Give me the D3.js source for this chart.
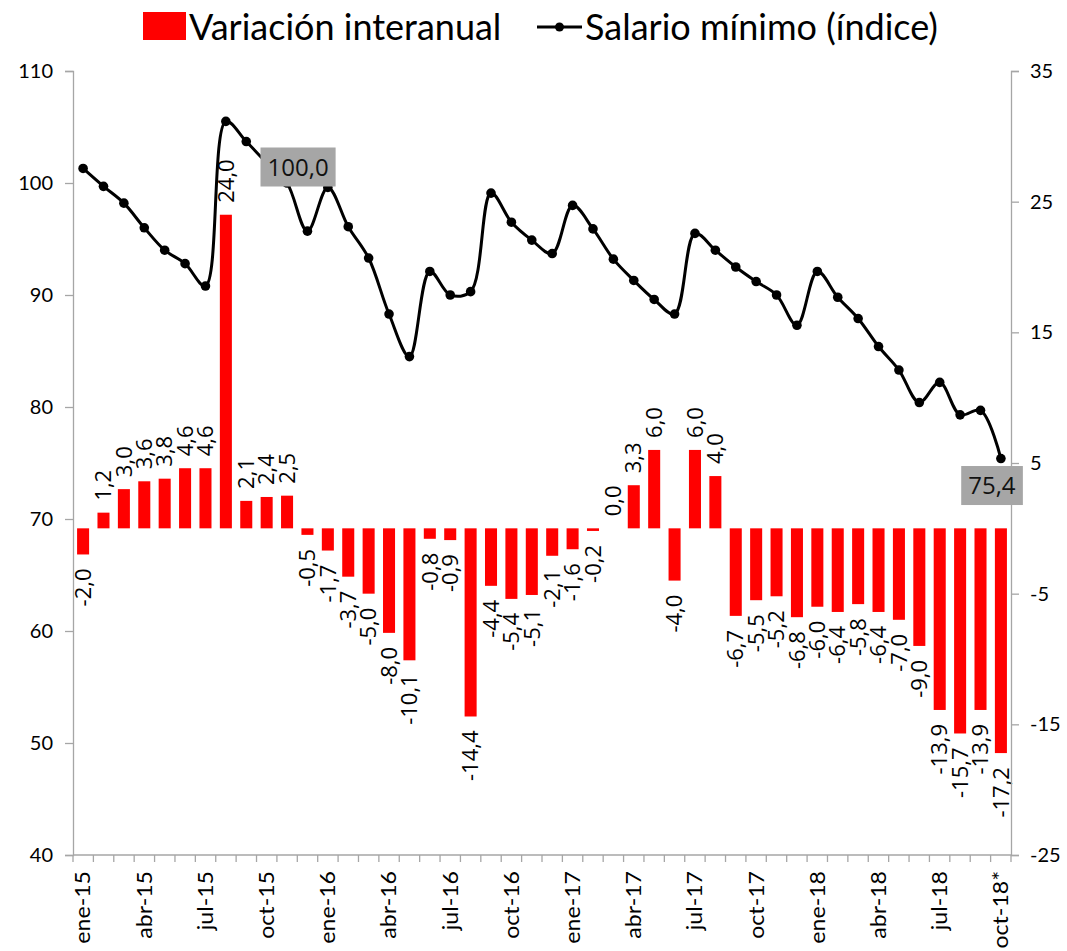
<!DOCTYPE html>
<html>
<head>
<meta charset="utf-8">
<script src="https://cdn.jsdelivr.net/npm/d3@7"></script>
<style>
  body { margin: 0; background: #fff; }
  svg { display: block; }
</style>
</head>
<body>
<svg width="1067" height="951"></svg>
<script>
const MONTHS = [
  'ene-15', 'feb-15', 'mar-15', 'abr-15', 'may-15', 'jun-15', 'jul-15', 'ago-15', 'sep-15', 'oct-15', 'nov-15', 'dic-15',
  'ene-16', 'feb-16', 'mar-16', 'abr-16', 'may-16', 'jun-16', 'jul-16', 'ago-16', 'sep-16', 'oct-16', 'nov-16', 'dic-16',
  'ene-17', 'feb-17', 'mar-17', 'abr-17', 'may-17', 'jun-17', 'jul-17', 'ago-17', 'sep-17', 'oct-17', 'nov-17', 'dic-17',
  'ene-18', 'feb-18', 'mar-18', 'abr-18', 'may-18', 'jun-18', 'jul-18', 'ago-18', 'sep-18', 'oct-18*',
];

// variación interanual (%), eje derecho
const VARIACION = [
  -2.0, 1.2, 3.0, 3.6, 3.8, 4.6, 4.6, 24.0, 2.1, 2.4, 2.5, -0.5,
  -1.7, -3.7, -5.0, -8.0, -10.1, -0.8, -0.9, -14.4, -4.4, -5.4, -5.1, -2.1,
  -1.6, -0.2, 0.0, 3.3, 6.0, -4.0, 6.0, 4.0, -6.7, -5.5, -5.2, -6.8,
  -6.0, -6.4, -5.8, -6.4, -7.0, -9.0, -13.9, -15.7, -13.9, -17.2,
];

// salario mínimo (índice), eje izquierdo
const INDICE = [
  101.3, 99.7, 98.2, 96.0, 94.0, 92.8, 90.8, 105.5, 103.7, 101.8, 100.0, 95.7,
  99.6, 96.1, 93.3, 88.3, 84.5, 92.1, 90.0, 90.3, 99.1, 96.5, 94.9, 93.7,
  98.0, 95.9, 93.2, 91.3, 89.6, 88.3, 95.5, 94.0, 92.5, 91.2, 90.0, 87.3,
  92.1, 89.8, 87.9, 85.4, 83.3, 80.4, 82.2, 79.3, 79.7, 75.4,
];

const LEFT_TICKS = [40, 50, 60, 70, 80, 90, 100, 110];
const RIGHT_TICKS = [-25, -15, -5, 5, 15, 25, 35];
const LABELED_POINTS = ['nov-15', 'oct-18*'];

const fmt = v => v.toFixed(1).replace('.', ',');

const svg = d3.select('svg');
const plotTop = 71, plotBottom = 855, plotLeft = 73, plotRight = 1011;

const x = d3.scaleBand().domain(MONTHS).range([plotLeft, plotRight]).paddingInner(0.41).paddingOuter(0.2);
const yL = d3.scaleLinear().domain([40, 110]).range([plotBottom, plotTop]);
const yR = d3.scaleLinear().domain([-25, 35]).range([plotBottom, plotTop]);
const cx = m => x(m) + x.bandwidth() / 2;

const rows = MONTHS.map((m, i) => ({ m, v: VARIACION[i], idx: INDICE[i] }));

// bars
svg.append('g')
  .selectAll('rect')
  .data(rows)
  .join('rect')
  .attr('x', d => x(d.m))
  .attr('width', x.bandwidth())
  .attr('y', d => yR(Math.max(0, d.v)))
  .attr('height', d => Math.abs(yR(d.v) - yR(0)))
  .attr('fill', '#ff0000');

// bar labels
svg.append('g')
  .selectAll('text')
  .data(rows)
  .join('text')
  .attr('transform', d => {
    const y = d.v >= 0 ? yR(d.v) - 12 : yR(d.v) + 14;
    return `translate(${cx(d.m)},${y}) rotate(-90)`;
  })
  .attr('text-anchor', d => (d.v >= 0 ? 'start' : 'end'))
  .attr('dy', '0.35em')
  .style('font-family', '"Open Sans", sans-serif')
  .style('font-size', '22px')
  .attr('fill', '#000')
  .text(d => fmt(d.v));

// axes
const axisColor = '#a6a6a6';
const gL = svg.append('g')
  .attr('transform', `translate(${plotLeft},0)`)
  .call(d3.axisLeft(yL).tickValues(LEFT_TICKS).tickSize(8).tickPadding(12).tickFormat(d => String(d)));
const gR = svg.append('g')
  .attr('transform', `translate(${plotRight},0)`)
  .call(d3.axisRight(yR).tickValues(RIGHT_TICKS).tickSize(8).tickPadding(11).tickFormat(d => String(d)));
[gL, gR].forEach(g => {
  g.select('.domain').attr('stroke', axisColor).attr('stroke-width', 1.3);
  g.selectAll('.tick line').attr('stroke', axisColor).attr('stroke-width', 1.3);
  g.selectAll('.tick text')
    .style('font-family', 'Lato, sans-serif')
    .style('font-size', '20px')
    .attr('fill', '#000');
});

const gB = svg.append('g');
gB.append('line')
  .attr('x1', plotLeft).attr('x2', plotRight)
  .attr('y1', plotBottom).attr('y2', plotBottom)
  .attr('stroke', axisColor).attr('stroke-width', 1.3);
const bandEdge = i => plotLeft + i * (plotRight - plotLeft) / MONTHS.length;
gB.selectAll('line.tk')
  .data(d3.range(MONTHS.length + 1))
  .join('line')
  .attr('class', 'tk')
  .attr('x1', bandEdge)
  .attr('x2', bandEdge)
  .attr('y1', plotBottom).attr('y2', plotBottom + 7)
  .attr('stroke', axisColor).attr('stroke-width', 1.3);
gB.selectAll('text')
  .data(MONTHS.filter((m, i) => i % 3 === 0))
  .join('text')
  .attr('transform', m => `translate(${cx(m)},${plotBottom + 16}) rotate(-90) scale(1.1,1)`)
  .attr('text-anchor', 'end')
  .attr('dy', '0.35em')
  .style('font-family', 'Lato, sans-serif')
  .style('font-size', '21px')
  .attr('fill', '#000')
  .text(m => m);

// line
const line = d3.line()
  .x(d => cx(d.m))
  .y(d => yL(d.idx))
  .curve(d3.curveCatmullRom.alpha(0.5));
svg.append('path')
  .datum(rows)
  .attr('d', line)
  .attr('fill', 'none')
  .attr('stroke', '#000')
  .attr('stroke-width', 3);
svg.append('g')
  .selectAll('circle')
  .data(rows)
  .join('circle')
  .attr('cx', d => cx(d.m))
  .attr('cy', d => yL(d.idx))
  .attr('r', 4.8)
  .attr('fill', '#000');

// value boxes
const boxOffsets = { 'nov-15': [11, -16], 'oct-18*': [-9, 27] };
const boxes = svg.append('g')
  .selectAll('g')
  .data(rows.filter(d => LABELED_POINTS.includes(d.m)))
  .join('g')
  .attr('transform', d => `translate(${cx(d.m) + boxOffsets[d.m][0]},${yL(d.idx) + boxOffsets[d.m][1]})`);
boxes.append('text')
  .attr('text-anchor', 'middle')
  .attr('dy', '0.36em')
  .style('font-family', '"Open Sans", sans-serif')
  .style('font-size', '24px')
  .attr('fill', '#111')
  .text(d => fmt(d.idx));
boxes.each(function () {
  const g = d3.select(this);
  const bb = g.select('text').node().getBBox();
  g.insert('rect', 'text')
    .attr('x', bb.x - 7).attr('y', -19.5)
    .attr('width', bb.width + 14).attr('height', 39)
    .attr('fill', '#a6a6a6');
});

// legend
const lg = svg.append('g');
lg.append('rect').attr('x', 143).attr('y', 12).attr('width', 43).attr('height', 28).attr('fill', '#ff0000');
lg.append('text')
  .attr('x', 189).attr('y', 40)
  .style('font-family', 'Lato, sans-serif')
  .style('font-size', '36px')
  .attr('fill', '#000')
  .text('Variación interanual');
lg.append('line').attr('x1', 537).attr('x2', 582).attr('y1', 27).attr('y2', 27).attr('stroke', '#000').attr('stroke-width', 3);
lg.append('circle').attr('cx', 559.5).attr('cy', 27).attr('r', 4.5).attr('fill', '#000');
lg.append('text')
  .attr('x', 585).attr('y', 40)
  .style('font-family', 'Lato, sans-serif')
  .style('font-size', '36px')
  .attr('fill', '#000')
  .text('Salario mínimo (índice)');
</script>
</body>
</html>
